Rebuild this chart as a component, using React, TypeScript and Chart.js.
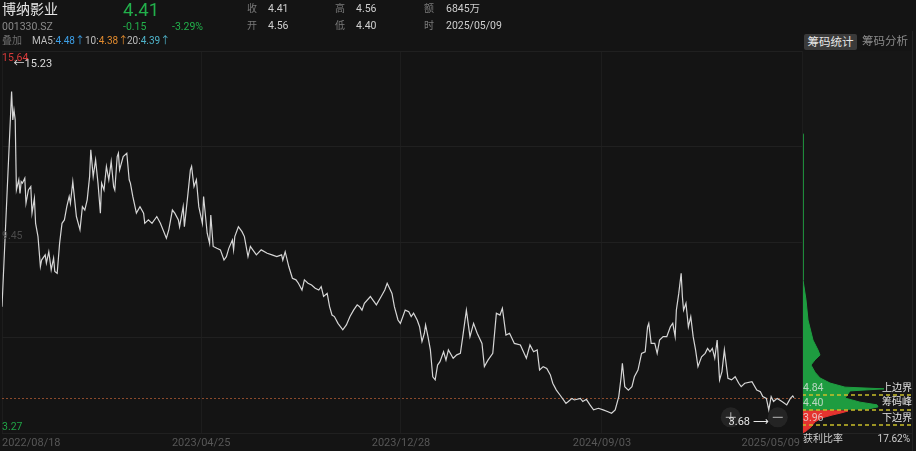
import React, { useEffect, useRef } from "react";
import { Chart, registerables } from "chart.js";

Chart.register(...registerables);

// ---------- data ----------
const closeDays = [
  0, 8, 9, 10, 11, 12, 14, 15, 16, 17, 19, 20, 22, 24, 25, 27, 28, 30, 32, 33,
  36, 37, 39, 41, 43, 44, 46, 48, 50, 52, 54, 56, 57, 59, 62, 65, 67, 69, 71, 73,
  74, 76, 78, 80, 82, 83, 85, 87, 89, 91, 93, 94, 96, 97, 98, 101, 104, 106, 107, 109,
  112, 115, 118, 119, 122, 125, 129, 132, 137, 139, 142, 144, 147, 148, 151, 152, 155, 157, 158, 160,
  162, 164, 167, 168, 171, 173, 174, 176, 179, 182, 185, 187, 189, 192, 193, 194, 197, 200, 202, 205,
  207, 209, 212, 216, 221, 225, 229, 233, 234, 236, 239, 242, 245, 247, 250, 252, 255, 258, 261, 264,
  266, 268, 271, 273, 275, 277, 280, 284, 287, 290, 293, 296, 298, 300, 302, 307, 309, 312, 316, 319,
  321, 325, 327, 330,
  332, 336, 339, 341, 343, 346, 348, 350, 352, 353, 355, 357, 359, 361, 363, 365, 368, 370, 372, 376,
  379, 382, 384, 387, 390, 393, 396, 400, 402, 405, 409, 412, 415, 417, 420, 423, 427, 432, 437, 440,
  443, 446, 448, 451, 454, 457, 459, 462, 465, 470, 472, 475, 477, 482, 484, 487, 490, 493, 497, 501,
  505, 508, 511, 514, 516, 517, 519, 522, 525, 527, 530, 533, 536, 538, 539, 541, 544, 546, 548, 551,
  554, 557, 559, 561, 562, 564, 566, 567, 568, 570, 572, 574, 576, 578, 580, 583, 586, 588, 590, 592,
  594, 596, 598, 600, 602, 605, 608, 611, 614, 616, 619, 625, 629, 632, 634, 637, 639, 641, 643, 646,
  650, 654, 657, 659, 660,
];

const closePrices = [
  7.36, 14.33, 13.41, 13.73, 13.41, 11.14, 11.47, 11.03, 11.41, 11.36, 11.52, 10.71, 11.14, 11.25, 10.39, 10.87, 10.06, 9.63, 8.66, 8.87,
  9.04, 8.77, 9.14, 8.55, 8.93, 8.5, 8.44, 9.41, 10.06, 10.17, 10.6, 10.93, 10.71, 11.41, 10.28, 9.85, 10.6, 10.49, 10.82, 11.57,
  12.44, 11.57, 12.11, 11.36, 10.39, 11.36, 11.14, 11.9, 11.47, 12.06, 11.25, 11.14, 12.22, 12.33, 11.79, 12.22, 12.33, 11.47, 11.36, 10.93,
  10.39, 10.6, 10.39, 10.06, 10.17, 10.06, 10.28, 10.06, 9.58, 9.85, 10.49, 10.39, 10.17, 9.95, 10.6, 9.95, 11.03, 11.79, 11.9, 11.25,
  11.47, 10.6, 10.06, 10.93, 9.74, 9.41, 10.33, 9.31, 9.25, 9.2, 8.87, 8.98, 9.25, 9.52, 9.2, 9.63, 9.95, 9.79, 9.63, 8.98,
  9.31, 9.2, 9.04, 9.2, 9.09, 9.04, 8.98, 9.04, 8.87, 9.14, 8.66, 8.28, 8.23, 8.12, 7.9, 8.23, 8.12, 8.06, 7.96, 7.9,
  8.01, 7.69, 7.79, 7.36, 7.09, 7.04, 6.82, 6.61, 6.77, 7.04, 7.25, 7.42, 7.36, 7.25, 7.47, 7.69, 7.58, 7.42, 7.69, 7.9,
  8.12, 7.79, 7.36, 6.93,
  6.82, 7.25, 7.2, 7.04, 7.15, 6.93, 6.71, 6.23, 6.5, 6.77, 6.39, 5.96, 5.09, 4.99, 5.47, 5.58, 5.9, 5.63, 5.96, 5.69,
  5.8, 5.85, 6.39, 7.25, 6.39, 6.82, 6.5, 6.17, 5.42, 5.63, 5.85, 7.15, 7.09, 7.31, 6.44, 6.5, 6.17, 6.12, 5.69, 6.12,
  5.9, 5.96, 5.31, 5.42, 5.36, 5.15, 4.88, 4.66, 4.5, 4.23, 4.29, 4.39, 4.34, 4.39, 4.29, 4.36, 4.18, 4.02, 4.07, 4.02,
  3.96, 3.91, 4.02, 4.45, 5.09, 5.53, 4.77, 4.66, 4.77, 5.09, 5.31, 5.85, 5.9, 6.71, 6.82, 6.17, 6.17, 5.85, 6.28, 6.39,
  6.39, 6.71, 6.82, 6.39, 7.25, 7.79, 8.44, 7.69, 7.25, 7.47, 6.71, 7.04, 6.39, 5.96, 5.42, 5.74, 5.85, 6.01, 5.9, 6.01,
  5.69, 6.28, 4.99, 5.26, 5.96, 5.04, 4.99, 5.09, 4.88, 4.77, 4.88, 4.93, 4.66, 4.61, 4.45, 4.39, 4.02, 4.45, 4.29, 4.39,
  4.29, 4.18, 4.39, 4.47, 4.41,
];

const dateTickDays = [0, 166, 332.5, 500, 666.7];
const dateTickLabels = ["2022/08/18", "2023/04/25", "2023/12/28", "2024/09/03", "2025/05/09"];
const priceMin = 3.27;
const priceMax = 15.64;
const priceMid = 9.45;
const lastClose = 4.41;
const maxHigh = 15.23;
const maxHighDay = 8;
const minLow = 3.68;
const minLowDay = 639;

// chip distribution (price level -> relative volume)
const chipGreenPrices = [12.6, 12.5, 8.22, 7.64, 7.05, 6.46, 6.17, 6.02, 5.88, 5.73, 5.52, 5.35, 5.2, 5.08, 5.03, 4.97, 4.88, 4.76, 4.64, 4.56, 4.5, 4.44, 4.41];
const chipGreenVolumes = [0, 1, 1, 4, 6, 11, 16, 18, 13, 9, 13, 18, 28, 43, 82, 48, 46, 43, 58, 75, 76, 66, 0];
const chipRedPrices = [4.41, 4.38, 4.33, 4.26, 4.18, 4.06, 3.91, 3.79, 3.74];
const chipRedVolumes = [0, 46, 40, 30, 20, 13, 9, 4, 1];
const chipLevels = [4.84, 4.41, 3.96];
const chipLevelLabels = ["4.84", "4.40", "3.96"];
const chipLevelNames = ["上边界", "筹码峰", "下边界"];
const chipPriceMin = 3.735;
const chipPriceMax = 14.94;
const profitRatio = "17.62%";

// ---------- constants ----------
const W = 916;
const H = 451;
const FONT = 'Roboto, "Noto Sans CJK SC", sans-serif';
const BG = "#141414";
const GREEN = "#22b04b";
const GRID = "#1d1d1d";

const mainLabels = {
  id: "mainLabels",
  beforeDatasetsDraw(chart: any) {
    const { ctx, chartArea, scales } = chart;
    const y = scales.y.getPixelForValue(lastClose);
    ctx.save();
    ctx.strokeStyle = "#8b4a2c";
    ctx.lineWidth = 1;
    ctx.setLineDash([2, 2]);
    ctx.beginPath();
    ctx.moveTo(chartArea.left, Math.round(y) + 0.5);
    ctx.lineTo(chartArea.right, Math.round(y) + 0.5);
    ctx.stroke();
    ctx.restore();
  },
  afterDraw(chart: any) {
    const { ctx, chartArea, scales } = chart;
    const xs = scales.x;
    const ys = scales.y;
    ctx.save();
    ctx.textBaseline = "middle";
    ctx.font = `10.5px ${FONT}`;
    ctx.textAlign = "left";
    ctx.fillStyle = "#d83a3a";
    ctx.fillText(priceMax.toFixed(2), 2, ys.getPixelForValue(priceMax) + 7);
    ctx.fillStyle = "#4a4a4a";
    ctx.fillText(priceMid.toFixed(2), 2, ys.getPixelForValue(priceMid) - 6);
    ctx.fillStyle = "#20a346";
    ctx.fillText(priceMin.toFixed(2), 2, ys.getPixelForValue(priceMin) - 6);
    ctx.fillStyle = "#dcdcdc";
    ctx.font = `11px ${FONT}`;
    ctx.fillText("←" + maxHigh.toFixed(2), xs.getPixelForValue(maxHighDay) + 2, ys.getPixelForValue(maxHigh) + 1);
    const by = ys.getPixelForValue(minLow) - 3;
    const bx1 = xs.getPixelForValue(minLowDay) - 38;
    const bx2 = xs.getPixelForValue(minLowDay) + 9;
    ctx.fillStyle = "rgba(255,255,255,0.07)";
    [bx1, bx2].forEach((bx) => {
      ctx.beginPath();
      ctx.arc(bx, by, 10, 0, Math.PI * 2);
      ctx.fill();
    });
    ctx.strokeStyle = "#9a9a9a";
    ctx.lineWidth = 1.2;
    ctx.beginPath();
    ctx.moveTo(bx1 - 5, by);
    ctx.lineTo(bx1 + 5, by);
    ctx.moveTo(bx1, by - 5);
    ctx.lineTo(bx1, by + 5);
    ctx.moveTo(bx2 - 5, by);
    ctx.lineTo(bx2 + 5, by);
    ctx.stroke();
    ctx.fillStyle = "#e6e6e6";
    ctx.textAlign = "right";
    ctx.font = `11px ${FONT}`;
    ctx.fillText(minLow.toFixed(2) + " ⟶", xs.getPixelForValue(minLowDay), ys.getPixelForValue(minLow) + 2);
    ctx.fillStyle = "#575757";
    ctx.font = `11px ${FONT}`;
    dateTickDays.forEach((d, i) => {
      const px = xs.getPixelForValue(d);
      const last = i === dateTickDays.length - 1;
      ctx.textAlign = i === 0 ? "left" : last ? "right" : "center";
      ctx.fillText(dateTickLabels[i], last ? px - 2 : px, chartArea.bottom + 10);
    });
    ctx.restore();
  },
};

const chipLabels = {
  id: "chipLabels",
  beforeDraw(chart: any) {
    const { ctx, chartArea } = chart;
    ctx.save();
    ctx.fillStyle = "#161616";
    ctx.fillRect(chartArea.left, chartArea.top, chartArea.right - chartArea.left, H - chartArea.top);
    ctx.strokeStyle = "#232323";
    ctx.lineWidth = 1;
    ctx.beginPath();
    ctx.moveTo(chartArea.right + 0.5, chartArea.top - 20);
    ctx.lineTo(chartArea.right + 0.5, H);
    ctx.moveTo(chartArea.left - 0.5, chartArea.bottom + 0.5);
    ctx.lineTo(chartArea.right, chartArea.bottom + 0.5);
    ctx.stroke();
    ctx.restore();
  },
  afterDraw(chart: any) {
    const { ctx, chartArea, scales } = chart;
    const ys = scales.y;
    ctx.save();
    ctx.strokeStyle = "#c9bf2a";
    ctx.lineWidth = 1.5;
    ctx.setLineDash([4, 3]);
    chipLevels.forEach((v) => {
      const y = Math.round(ys.getPixelForValue(v));
      ctx.beginPath();
      ctx.moveTo(chartArea.left, y);
      ctx.lineTo(chartArea.right, y);
      ctx.stroke();
    });
    ctx.setLineDash([]);
    ctx.textBaseline = "middle";
    chipLevels.forEach((v, i) => {
      const y = ys.getPixelForValue(v) - 7;
      ctx.font = `10.5px ${FONT}`;
      ctx.textAlign = "left";
      ctx.fillStyle = "rgba(235,235,235,0.75)";
      ctx.fillText(chipLevelLabels[i], chartArea.left + 1, y);
      ctx.font = `10px ${FONT}`;
      ctx.textAlign = "right";
      ctx.fillStyle = "#e6e6e6";
      ctx.fillText(chipLevelNames[i], chartArea.right, y);
    });
    ctx.font = `10px ${FONT}`;
    ctx.textAlign = "left";
    ctx.fillStyle = "#cfcfcf";
    ctx.fillText("获利比率", chartArea.left + 1, chartArea.bottom + 6);
    ctx.textAlign = "right";
    ctx.fillText(profitRatio, chartArea.right - 2, chartArea.bottom + 6);
    ctx.restore();
  },
};

function T(props: { x: number; y: number; s: number; c: string; children: any }) {
  return (
    <span
      style={{
        position: "absolute",
        left: props.x,
        top: props.y,
        fontSize: props.s,
        color: props.c,
        lineHeight: 1,
        whiteSpace: "nowrap",
      }}
    >
      {props.children}
    </span>
  );
}

export default function App() {
  const mainRef = useRef<HTMLCanvasElement>(null);
  const chipRef = useRef<HTMLCanvasElement>(null);

  useEffect(() => {
    document.body.style.margin = "0";
    document.body.style.background = BG;
    const main = new Chart(mainRef.current!, {
      type: "line",
      data: {
        datasets: [
          {
            data: closeDays.map((d, i) => ({ x: d, y: closePrices[i] })),
            borderColor: "#d6d6d6",
            borderWidth: 1.2,
            pointRadius: 0,
            tension: 0,
          },
        ],
      },
      options: {
        responsive: false,
        animation: false,
        events: [],
        layout: { padding: { left: 2, right: 114, top: 51, bottom: 18 } },
        plugins: { legend: { display: false }, tooltip: { enabled: false } },
        scales: {
          x: {
            type: "linear",
            min: dateTickDays[0],
            max: dateTickDays[dateTickDays.length - 1],
            afterBuildTicks: (s: any) => {
              s.ticks = dateTickDays.map((v) => ({ value: v }));
            },
            ticks: { display: false },
            grid: { color: GRID, drawTicks: false },
            border: { display: false },
          },
          y: {
            type: "linear",
            min: priceMin,
            max: priceMax,
            afterBuildTicks: (s: any) => {
              s.ticks = [0, 1, 2, 3, 4].map((k) => ({ value: priceMin + ((priceMax - priceMin) * k) / 4 }));
            },
            ticks: { display: false },
            grid: { color: "#202020", drawTicks: false },
            border: { display: false },
          },
        },
      },
      plugins: [mainLabels],
    } as any);

    const chip = new Chart(chipRef.current!, {
      type: "line",
      data: {
        datasets: [
          {
            data: chipGreenPrices.map((p, i) => ({ x: chipGreenVolumes[i], y: p })),
            borderColor: "#1e9c40",
            backgroundColor: "#1e9c40",
            borderWidth: 1,
            pointRadius: 0,
            fill: "origin",
            tension: 0,
          },
          {
            data: chipRedPrices.map((p, i) => ({ x: chipRedVolumes[i], y: p })),
            borderColor: "#e5332f",
            backgroundColor: "#e5332f",
            borderWidth: 1,
            pointRadius: 0,
            fill: "origin",
            tension: 0,
          },
        ],
      },
      options: {
        indexAxis: "y",
        responsive: false,
        animation: false,
        events: [],
        layout: { padding: { left: 802, right: 4, top: 51, bottom: 18 } },
        plugins: { legend: { display: false }, tooltip: { enabled: false } },
        scales: {
          x: { type: "linear", min: 0, max: 110, display: false },
          y: { type: "linear", min: chipPriceMin, max: chipPriceMax, display: false },
        },
      },
      plugins: [chipLabels],
    } as any);

    return () => {
      main.destroy();
      chip.destroy();
    };
  }, []);

  return (
    <div
      style={{
        position: "relative",
        width: W,
        height: H,
        background: BG,
        overflow: "hidden",
        fontFamily: FONT,
      }}
    >
      <canvas ref={chipRef} width={W} height={H} style={{ position: "absolute", left: 0, top: 0 }} />
      <canvas ref={mainRef} width={W} height={H} style={{ position: "absolute", left: 0, top: 0 }} />
      <T x={2} y={2} s={14} c="#e6e6e6">博纳影业</T>
      <T x={2} y={21.5} s={10.5} c="#8a8a8a">001330.SZ</T>
      <T x={123} y={0.5} s={18.5} c={GREEN}>4.41</T>
      <T x={123} y={21.5} s={10.5} c={GREEN}>-0.15</T>
      <T x={172} y={21.5} s={10.5} c={GREEN}>-3.29%</T>

      <T x={247} y={4} s={10} c="#7a7a7a">收</T>
      <T x={268} y={4} s={10.5} c="#cfcfcf">4.41</T>
      <T x={335} y={4} s={10} c="#7a7a7a">高</T>
      <T x={356} y={4} s={10.5} c="#cfcfcf">4.56</T>
      <T x={424} y={4} s={10} c="#7a7a7a">额</T>
      <T x={446} y={4} s={10.5} c="#cfcfcf">6845万</T>

      <T x={247} y={21} s={10} c="#7a7a7a">开</T>
      <T x={268} y={21} s={10.5} c="#cfcfcf">4.56</T>
      <T x={335} y={21} s={10} c="#7a7a7a">低</T>
      <T x={356} y={21} s={10.5} c="#cfcfcf">4.40</T>
      <T x={424} y={21} s={10} c="#7a7a7a">时</T>
      <T x={446} y={21} s={10.5} c="#cfcfcf">2025/05/09</T>

      <T x={2} y={36} s={10} c="#6e6e6e">叠加</T>
      <T x={32} y={36} s={10} c="#bdbdbd">
        MA5:<span style={{ color: "#3d9fe6" }}>4.48↑</span>
      </T>
      <T x={85} y={36} s={10} c="#bdbdbd">
        10:<span style={{ color: "#e08a2e" }}>4.38↑</span>
      </T>
      <T x={127} y={36} s={10} c="#bdbdbd">
        20:<span style={{ color: "#4fb3c9" }}>4.39↑</span>
      </T>

      <div
        style={{
          position: "absolute",
          left: 804,
          top: 34,
          width: 53,
          height: 16,
          background: "#3a3a3a",
          borderRadius: 2,
          color: "#e6e6e6",
          fontSize: 11.5,
          lineHeight: "16px",
          textAlign: "center",
        }}
      >
        筹码统计
      </div>
      <T x={862} y={36} s={11.5} c="#8a8a8a">筹码分析</T>
    </div>
  );
}
